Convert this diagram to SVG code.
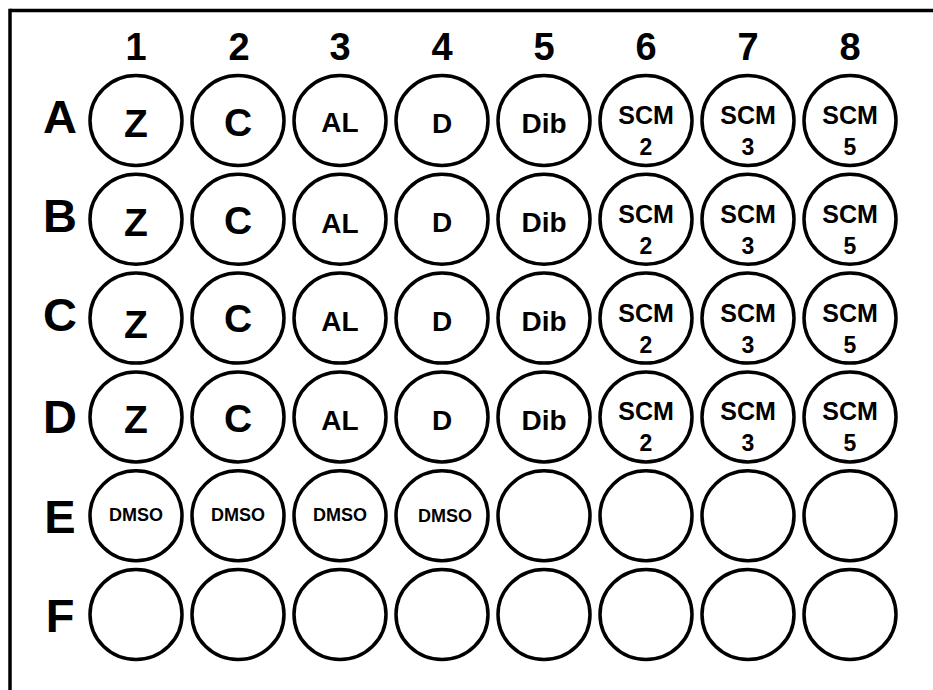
<svg xmlns="http://www.w3.org/2000/svg" width="933" height="690" viewBox="0 0 933 690">
<style>
.w{fill:#fff;stroke:#000;stroke-width:3.5}
text{font-family:"Liberation Sans",Arial,sans-serif;font-weight:bold;text-anchor:middle;fill:#000}
.col{font-size:38px}
.row{font-size:47px}
.big{font-size:39px}
.mid{font-size:28px}
.scm{font-size:25px}
.num{font-size:23px}
.dmso{font-size:18px}
</style>
<rect width="933" height="690" fill="#fff"/>
<g id="frame" stroke="#000" stroke-width="3.5" fill="none">
<line x1="10" y1="10.5" x2="933" y2="10.5"/>
<line x1="10" y1="8.75" x2="10" y2="690"/>
</g>
<g id="column-labels">
<text class="col" x="136" y="60">1</text>
<text class="col" x="239" y="60">2</text>
<text class="col" x="340" y="60">3</text>
<text class="col" x="442" y="60">4</text>
<text class="col" x="544" y="60">5</text>
<text class="col" x="646" y="60">6</text>
<text class="col" x="748" y="60">7</text>
<text class="col" x="850" y="60">8</text>
</g>
<g id="row-labels">
<text class="row" x="60" y="133">A</text>
<text class="row" x="60" y="232">B</text>
<text class="row" x="60" y="331">C</text>
<text class="row" x="60" y="433">D</text>
<text class="row" x="60" y="533">E</text>
<text class="row" x="60" y="632">F</text>
</g>
<defs>
<g id="well"><ellipse class="w" cx="0" cy="0" rx="46" ry="45"/></g>
</defs>
<g id="row-A">
<g id="A1" transform="translate(136,120.5)"><use href="#well"/><text class="big" y="16.5">Z</text></g>
<g id="A2" transform="translate(238,120.5)"><use href="#well"/><text class="big" y="15">C</text></g>
<g id="A3" transform="translate(340,120.5)"><use href="#well"/><text class="mid" y="11.5">AL</text></g>
<g id="A4" transform="translate(442,120.5)"><use href="#well"/><text class="mid" y="12.5">D</text></g>
<g id="A5" transform="translate(544,120.5)"><use href="#well"/><text class="mid" y="12.5">Dib</text></g>
<g id="A6" transform="translate(646,120.5)"><use href="#well"/><text class="scm" y="3.5">SCM</text><text class="num" y="34.5">2</text></g>
<g id="A7" transform="translate(748,120.5)"><use href="#well"/><text class="scm" y="3.5">SCM</text><text class="num" y="34.5">3</text></g>
<g id="A8" transform="translate(850,120.5)"><use href="#well"/><text class="scm" y="3.5">SCM</text><text class="num" y="34.5">5</text></g>
</g>
<g id="row-B">
<g id="B1" transform="translate(136,219.3)"><use href="#well"/><text class="big" y="17">Z</text></g>
<g id="B2" transform="translate(238,219.3)"><use href="#well"/><text class="big" y="15">C</text></g>
<g id="B3" transform="translate(340,219.3)"><use href="#well"/><text class="mid" y="13.5">AL</text></g>
<g id="B4" transform="translate(442,219.3)"><use href="#well"/><text class="mid" y="13">D</text></g>
<g id="B5" transform="translate(544,219.3)"><use href="#well"/><text class="mid" y="13">Dib</text></g>
<g id="B6" transform="translate(646,219.3)"><use href="#well"/><text class="scm" y="3.5">SCM</text><text class="num" y="34.5">2</text></g>
<g id="B7" transform="translate(748,219.3)"><use href="#well"/><text class="scm" y="3.5">SCM</text><text class="num" y="34.5">3</text></g>
<g id="B8" transform="translate(850,219.3)"><use href="#well"/><text class="scm" y="3.5">SCM</text><text class="num" y="34.5">5</text></g>
</g>
<g id="row-C">
<g id="C1" transform="translate(136,318.1)"><use href="#well"/><text class="big" y="20">Z</text></g>
<g id="C2" transform="translate(238,318.1)"><use href="#well"/><text class="big" y="14">C</text></g>
<g id="C3" transform="translate(340,318.1)"><use href="#well"/><text class="mid" y="12.5">AL</text></g>
<g id="C4" transform="translate(442,318.1)"><use href="#well"/><text class="mid" y="12.5">D</text></g>
<g id="C5" transform="translate(544,318.1)"><use href="#well"/><text class="mid" y="12.5">Dib</text></g>
<g id="C6" transform="translate(646,318.1)"><use href="#well"/><text class="scm" y="3.5">SCM</text><text class="num" y="34.5">2</text></g>
<g id="C7" transform="translate(748,318.1)"><use href="#well"/><text class="scm" y="3.5">SCM</text><text class="num" y="34.5">3</text></g>
<g id="C8" transform="translate(850,318.1)"><use href="#well"/><text class="scm" y="3.5">SCM</text><text class="num" y="34.5">5</text></g>
</g>
<g id="row-D">
<g id="D1" transform="translate(136,416.9)"><use href="#well"/><text class="big" y="16.5">Z</text></g>
<g id="D2" transform="translate(238,416.9)"><use href="#well"/><text class="big" y="15.5">C</text></g>
<g id="D3" transform="translate(340,416.9)"><use href="#well"/><text class="mid" y="13">AL</text></g>
<g id="D4" transform="translate(442,416.9)"><use href="#well"/><text class="mid" y="13">D</text></g>
<g id="D5" transform="translate(544,416.9)"><use href="#well"/><text class="mid" y="13">Dib</text></g>
<g id="D6" transform="translate(646,416.9)"><use href="#well"/><text class="scm" y="3.5">SCM</text><text class="num" y="34.5">2</text></g>
<g id="D7" transform="translate(748,416.9)"><use href="#well"/><text class="scm" y="3.5">SCM</text><text class="num" y="34.5">3</text></g>
<g id="D8" transform="translate(850,416.9)"><use href="#well"/><text class="scm" y="3.5">SCM</text><text class="num" y="34.5">5</text></g>
</g>
<g id="row-E">
<g id="E1" transform="translate(136,515.7)"><use href="#well"/><text class="dmso" y="5">DMSO</text></g>
<g id="E2" transform="translate(238,515.7)"><use href="#well"/><text class="dmso" y="5">DMSO</text></g>
<g id="E3" transform="translate(340,515.7)"><use href="#well"/><text class="dmso" y="5">DMSO</text></g>
<g id="E4" transform="translate(442,515.7)"><use href="#well"/><text class="dmso" x="3" y="6">DMSO</text></g>
<g id="E5" transform="translate(544,515.7)"><use href="#well"/></g>
<g id="E6" transform="translate(646,515.7)"><use href="#well"/></g>
<g id="E7" transform="translate(748,515.7)"><use href="#well"/></g>
<g id="E8" transform="translate(850,515.7)"><use href="#well"/></g>
</g>
<g id="row-F">
<g id="F1" transform="translate(136,614.5)"><use href="#well"/></g>
<g id="F2" transform="translate(238,614.5)"><use href="#well"/></g>
<g id="F3" transform="translate(340,614.5)"><use href="#well"/></g>
<g id="F4" transform="translate(442,614.5)"><use href="#well"/></g>
<g id="F5" transform="translate(544,614.5)"><use href="#well"/></g>
<g id="F6" transform="translate(646,614.5)"><use href="#well"/></g>
<g id="F7" transform="translate(748,614.5)"><use href="#well"/></g>
<g id="F8" transform="translate(850,614.5)"><use href="#well"/></g>
</g>
</svg>
